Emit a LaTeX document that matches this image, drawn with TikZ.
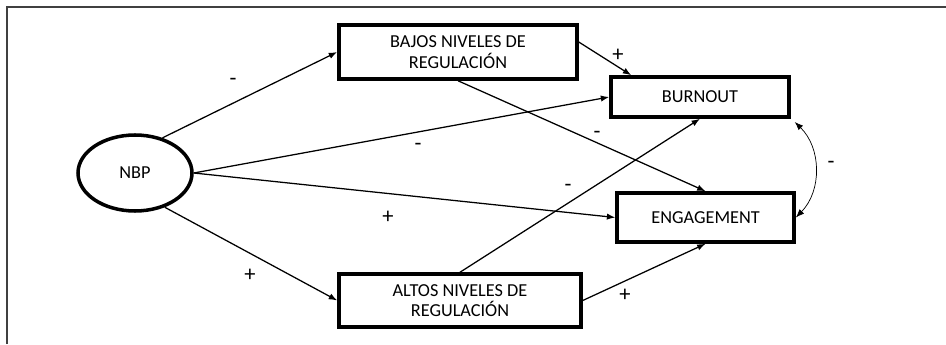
\documentclass[tikz,border=0pt]{standalone}
\usepackage{fontspec}
\setmainfont{Carlito}
\usetikzlibrary{shapes.geometric,arrows.meta}

\begin{document}
\begin{tikzpicture}[>={Latex[length=6pt,width=4.5pt]},
    caja/.style={draw, line width=2.5pt, align=center, inner sep=0pt, font=\fontsize{13}{14.5}\selectfont},
    flecha/.style={->, line width=0.9pt},
    signo/.style={inner sep=0pt, font=\fontsize{16}{16}\selectfont}]
    \useasboundingbox (0,0) rectangle (23.65,8.6);
    % marco
    \draw[line width=1.4pt, black!75] (0.175,0) -- (0.175,8.425) -- (23.65,8.425);
    % variables
    \node[caja, ellipse, minimum width=2.85cm, minimum height=1.9cm] (nbp) at (3.375,4.275) {NBP};
    \node[caja, minimum width=5.95cm, minimum height=1.35cm] (bajos) at (11.45,7.3) {BAJOS NIVELES DE\\REGULACIÓN};
    \node[caja, minimum width=6.05cm, minimum height=1.325cm] (altos) at (11.5,1.0875) {ALTOS NIVELES DE\\REGULACIÓN};
    \node[caja, minimum width=4.45cm, minimum height=1cm] (burnout) at (17.5,6.175) {BURNOUT};
    \node[caja, minimum width=4.425cm, minimum height=1.225cm] (engagement) at (17.64,3.1625) {ENGAGEMENT};
    % efectos
    \draw[flecha] (nbp.52) -- (bajos.west);
    \draw[flecha] (nbp.east) -- (burnout.west);
    \draw[flecha] (nbp.east) -- (engagement.west);
    \draw[flecha] (nbp.-49) -- (altos.west);
    \draw[flecha] ([yshift=0.25cm]bajos.east) -- ([xshift=0.55cm]burnout.north west);
    \draw[flecha] (bajos.south) -- (engagement.north);
    \draw[flecha] (altos.north) -- (burnout.south);
    \draw[flecha] (altos.east) -- (engagement.south);
    \draw[<->, line width=0.5pt] ([xshift=0.1cm,yshift=-0.08cm]burnout.south east) to[bend left=45] (engagement.east);
    % signos
    \node[signo] (s1) at (5.825,6.55) {-};
    \node[signo] (s2) at (10.45,4.925) {-};
    \node[signo] (s3) at (9.7,3.175) {+};
    \node[signo] (s4) at (6.25,1.725) {+};
    \node[signo] (s5) at (15.45,7.225) {+};
    \node[signo] (s6) at (14.925,5.225) {-};
    \node[signo] (s7) at (14.2,3.9) {-};
    \node[signo] (s8) at (15.625,1.225) {+};
    \node[signo] (s9) at (20.775,4.475) {-};
\end{tikzpicture}
\end{document}
